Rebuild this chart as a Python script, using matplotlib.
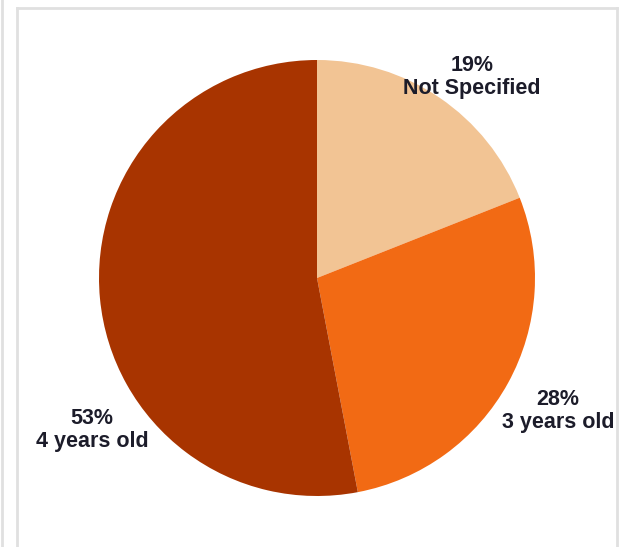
import matplotlib.pyplot as plt
from matplotlib.lines import Line2D

categories = ['Not Specified', '3 years old', '4 years old']
shares = [19, 28, 53]
colors = ['#F2C494', '#F26A14', '#A83400']

# label anchor points (pixels, y measured from top)
label_xy = [(472, 77), (558, 411), (92, 430)]

W, H = 619, 547
fig = plt.figure(figsize=(W / 100, H / 100), dpi=100, facecolor='white')
ax = fig.add_axes([0, 0, 1, 1])

ax.pie(shares, colors=colors, startangle=90, counterclock=False,
       center=(317, H - 278), radius=218, frame=True,
       wedgeprops={'linewidth': 0})
ax.set_xlim(0, W)
ax.set_ylim(0, H)
ax.set_aspect('equal')
ax.axis('off')

for cat, val, (x, y) in zip(categories, shares, label_xy):
    ax.text(x, H - y, f"{val}%\n{cat}", ha='center', va='center',
            fontsize=15.5, fontweight='bold', color='#1c1c2a',
            family='Liberation Sans', linespacing=1.1)

# surrounding frame lines
gray = '#e0e0e0'
fig.add_artist(Line2D([1.5 / W, 1.5 / W], [0, 1], color=gray, lw=2))
fig.add_artist(Line2D([17 / W, 17 / W], [0, 1 - 8 / H], color=gray, lw=2))
fig.add_artist(Line2D([17 / W, 617 / W], [1 - 8 / H, 1 - 8 / H], color=gray, lw=2))
fig.add_artist(Line2D([617 / W, 617 / W], [0, 1 - 8 / H], color=gray, lw=2))

fig.savefig('out.png', dpi=100, facecolor='white')
